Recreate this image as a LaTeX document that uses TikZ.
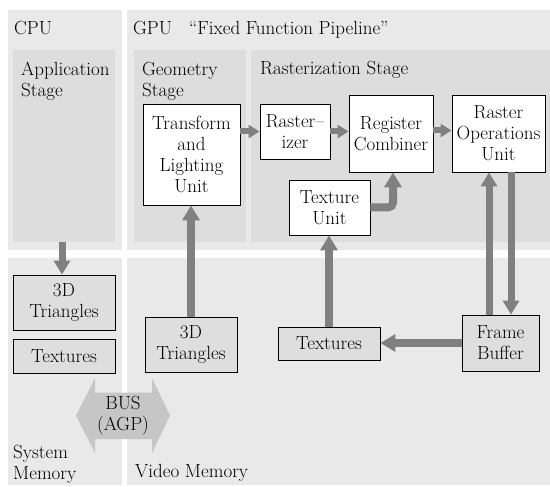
\documentclass[tikz,border=0pt]{standalone}
\usetikzlibrary{arrows.meta}

\definecolor{panelgray}{RGB}{233,233,233}
\definecolor{stagegray}{RGB}{221,221,221}
\definecolor{boxgray}{RGB}{222,222,222}
\definecolor{flowgray}{RGB}{128,128,128}
\definecolor{busgray}{RGB}{198,198,198}

\tikzset{
  txt/.style={font=\fontsize{19}{21}\selectfont, inner sep=0pt},
  panel/.style={fill=panelgray, draw=none, inner sep=0pt, anchor=north west},
  stagepanel/.style={fill=stagegray, draw=none, inner sep=0pt, anchor=north west},
  label/.style={txt, anchor=base west},
  mlabel/.style={txt, anchor=north west, align=left},
  unit/.style={txt, draw=black, line width=0.9pt, fill=white, align=center},
  membox/.style={unit, fill=boxgray},
  bigflow/.style={draw=flowgray, line width=8pt,
    -{Triangle[length=15pt,width=17pt]}},
  smallflow/.style={draw=flowgray, line width=6pt,
    -{Triangle[length=11pt,width=13pt]}},
  midflow/.style={draw=flowgray, line width=7pt,
    -{Triangle[length=14pt,width=16pt]}},
}

\begin{document}
\begin{tikzpicture}[x=1pt,y=-1pt]
\useasboundingbox (0,0) rectangle (550,487);

% ---- processor and memory panels ----
\node[panel, minimum width=114pt, minimum height=240.5pt] (cpu) at (8,9.5) {};
\node[panel, minimum width=423pt, minimum height=240pt] (gpu) at (127,10) {};
\node[panel, minimum width=114pt, minimum height=227pt] (sysmem) at (8,258) {};
\node[panel, minimum width=423pt, minimum height=227pt] (vidmem) at (127,258) {};

% ---- pipeline stages ----
\node[stagepanel, minimum width=102pt, minimum height=192pt] (app) at (13,50) {};
\node[stagepanel, minimum width=112pt, minimum height=192pt] (geo) at (134,50) {};
\node[stagepanel, minimum width=299pt, minimum height=192pt] (rasst) at (251,50) {};

% ---- panel titles ----
\node[label] (cputxt) at (14,35) {CPU};
\node[label] (gputxt) at (133,35) {GPU};
\node[label] (fixtxt) at (189,35) {``Fixed Function Pipeline''};
\node[mlabel] (apptxt) at (21,62) {Application\\Stage};
\node[mlabel] (geotxt) at (142,62) {Geometry\\Stage};
\node[label] (rastxt) at (260,75) {Rasterization Stage};
\node[mlabel] (systxt) at (13,445) {System\\Memory};
\node[label] (vidtxt) at (135,477) {Video Memory};

% ---- GPU units ----
\node[unit, minimum width=97pt, minimum height=101pt] (tl) at (191.5,154.5)
  {Transform\\and\\Lighting\\Unit};
\node[unit, minimum width=70pt, minimum height=55pt] (rast) at (295,131.5)
  {Raster--\\izer};
\node[unit, minimum width=84pt, minimum height=77pt] (rc) at (391,133.5)
  {Register\\Combiner};
\node[unit, minimum width=93pt, minimum height=77pt] (rou) at (498.5,133.5)
  {Raster\\Operations\\Unit};
\node[unit, minimum width=81pt, minimum height=55pt] (tu) at (329.5,207.5)
  {Texture\\Unit};

% ---- memory contents ----
\node[membox, minimum width=102pt, minimum height=55pt] (s3d) at (64,302.5)
  {3D\\Triangles};
\node[membox, minimum width=102pt, minimum height=34pt] (stex) at (64,356)
  {Textures};
\node[membox, minimum width=92pt, minimum height=55pt] (v3d) at (191,344.5)
  {3D\\Triangles};
\node[membox, minimum width=102pt, minimum height=33pt] (vtex) at (329,343.5)
  {Textures};
\node[membox, minimum width=77pt, minimum height=56pt] (fb) at (500.5,343)
  {Frame\\Buffer};

% ---- system bus between the memories ----
\fill[busgray] (76,415.5) -- (95,378) -- (95,392.5) -- (152,392.5) -- (152,378)
  -- (170,415.5) -- (152,453) -- (152,439) -- (95,439) -- (95,453) -- cycle;
\node[txt, align=center] (bus) at (123,415.5) {BUS\\(AGP)};

% ---- data flow ----
\coordinate (cpuout) at (62,242);
\draw[midflow] (cpuout) -- (cpuout |- s3d.north);
\draw[bigflow] (v3d.north) -- (v3d.north |- tl.south);
\draw[smallflow] (tl.east |- rast.west) -- (rast.west);
\draw[smallflow] (rast.east) -- (rast.east -| rc.west);
\draw[smallflow] ([yshift=3pt]rc.east) -- ([yshift=3pt]rou.west);
\draw[bigflow, rounded corners=5pt] (tu.east) -| ([xshift=2pt]rc.south);
\draw[bigflow] (vtex.north) -- (vtex.north |- tu.south);
\draw[bigflow] (fb.west) -- (fb.west -| vtex.east);
\coordinate (upx) at (489,0);
\coordinate (downx) at (511,0);
\draw[midflow] (upx |- fb.north) -- (upx |- rou.south);
\draw[midflow] (downx |- rou.south) -- (downx |- fb.north);
\end{tikzpicture}
\end{document}
